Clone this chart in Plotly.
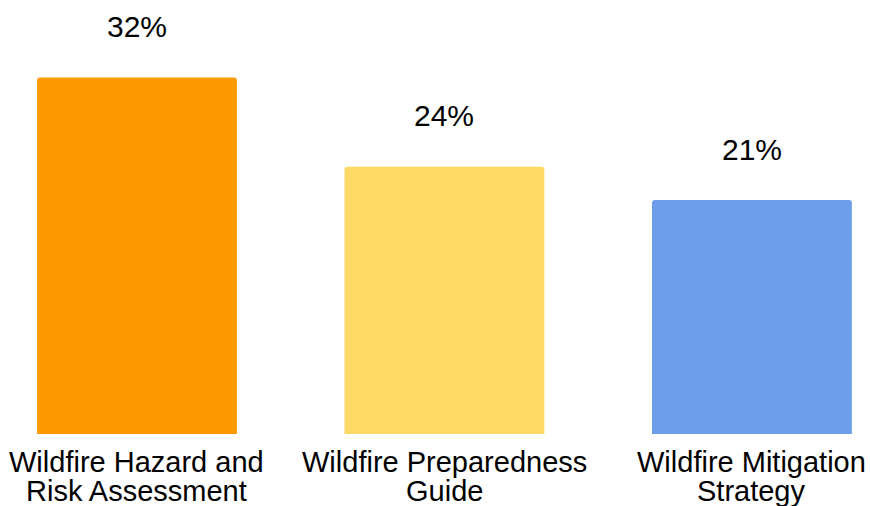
import plotly.graph_objects as go

categories = ["Wildfire Hazard and Risk Assessment",
              "Wildfire Preparedness Guide",
              "Wildfire Mitigation Strategy"]
label_lines = [["Wildfire Hazard and", "Risk Assessment"],
               ["Wildfire Preparedness", "Guide"],
               ["Wildfire Mitigation", "Strategy"]]
shares = [32, 24, 21]
colors = ["#ff9900", "#ffd966", "#6d9eeb"]

FONT = "Liberation Sans, Arial, sans-serif"

fig = go.Figure(go.Bar(
    x=categories, y=shares, marker=dict(color=colors, line=dict(width=0)),
    width=0.65, hoverinfo="skip",
))

annotations = []
for cat, val in zip(categories, shares):
    annotations.append(dict(
        x=cat, y=val, xref="x", yref="y", text=f"{val}%", showarrow=False,
        yanchor="middle", yshift=51, font=dict(family=FONT, size=30, color="#000000"),
    ))
for cat, lines in zip(categories, label_lines):
    for i, line in enumerate(lines):
        annotations.append(dict(
            x=cat, y=0, xref="x", yref="paper", text=line, showarrow=False,
            yanchor="middle", yshift=-28 - 29 * i,
            font=dict(family=FONT, size=29, color="#000000"),
        ))

fig.update_layout(
    width=870, height=506,
    margin=dict(l=0, r=0, t=0, b=72),
    paper_bgcolor="#ffffff", plot_bgcolor="#ffffff",
    barcornerradius=3,
    showlegend=False,
    xaxis=dict(range=[-0.4455, 2.384], showticklabels=False, showgrid=False,
               zeroline=False, showline=False, ticks=""),
    yaxis=dict(range=[0, 38.96], showticklabels=False, showgrid=False,
               zeroline=False, showline=False, ticks=""),
    annotations=annotations,
)

fig.write_html("out.html")
